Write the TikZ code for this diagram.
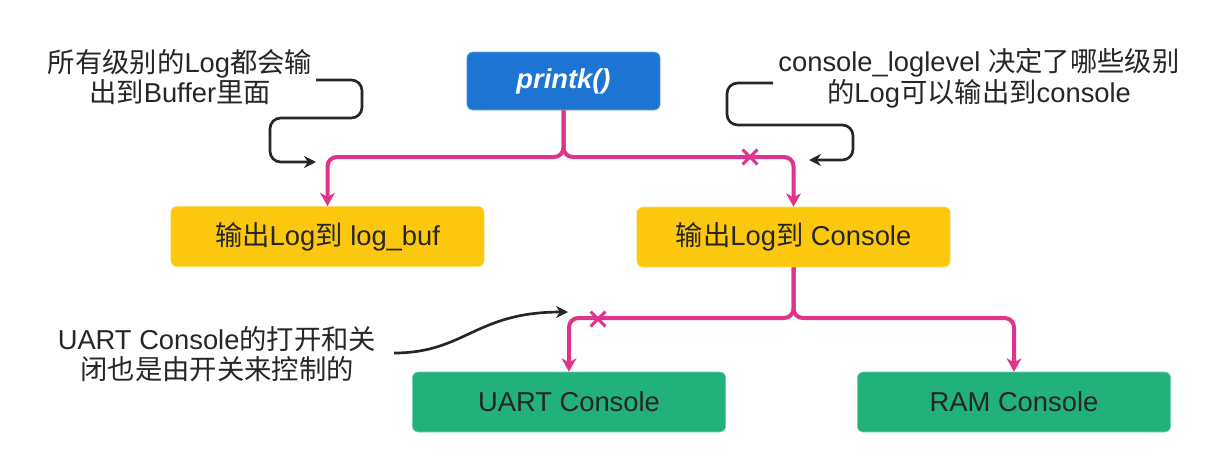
\documentclass[tikz,border=0pt]{standalone}
\usepackage{fontspec}
\setmainfont{Liberation Sans}
\newfontfamily\cjk{Noto Sans CJK SC}
\newcommand{\zh}[1]{{\cjk #1}}
\usetikzlibrary{arrows.meta,shapes.misc}
\definecolor{pblue}{HTML}{1E74D2}
\definecolor{pyel}{HTML}{FCC80E}
\definecolor{pgreen}{HTML}{22B07B}
\definecolor{ppink}{HTML}{E0338B}
\definecolor{ptext}{HTML}{262626}
\begin{document}
\begin{tikzpicture}[x=0.75pt,y=-0.75pt,
  box/.style={rounded corners=4.5pt, minimum width=235pt, minimum height=45pt, inner sep=0pt, font=\fontsize{20.5}{23}\selectfont, text=ptext},
  yelbox/.style={box, fill=pyel, draw=pyel!60},
  grnbox/.style={box, fill=pgreen, draw=pgreen!60},
  flow/.style={draw=ppink, line width=3pt, rounded corners=7pt, -{Stealth[length=10pt,width=11pt,inset=3pt]}},
  note/.style={draw=black!85, line width=2pt, rounded corners=8pt, -{Stealth[length=9pt,width=9pt,inset=3pt]}},
  notetext/.style={align=center, text=ptext, font=\fontsize{20.5}{23}\selectfont, inner sep=0pt},
  xmark/.style={cross out, draw=ppink, line width=2.2pt, minimum size=9pt, inner sep=0pt}
]
\useasboundingbox (0,0) rectangle (1230,457);
\fill[white] (0,0) rectangle (1230,457);

% boxes
\node[rounded corners=4.5pt, fill=pblue, draw=pblue!60, minimum width=145pt, minimum height=43.5pt, inner sep=0pt, text=white, font=\fontsize{20.5}{23}\selectfont\bfseries\itshape] (printk) at (563.5,81) {printk()};
\node[yelbox] (logbuf) at (327.5,236.5) {\zh{输出}Log\zh{到} log\_buf};
\node[yelbox] (console) at (793.5,237) {\zh{输出}Log\zh{到} Console};
\node[grnbox] (uart) at (569,402) {UART Console};
\node[grnbox] (ram) at (1014,402) {RAM Console};

% pink flow
\coordinate (j1) at (563.5,157);
\coordinate (j2) at (793.5,318);
\draw[flow] (printk.south) -- (j1) -| (logbuf.north);
\draw[flow] (printk.south) -- (j1) -| (console.north);
\draw[flow] (console.south) -- (j2) -| (uart.north);
\draw[flow] (console.south) -- (j2) -| (ram.north);
\node[xmark] (x1) at (750,157) {};
\node[xmark] (x2) at (598,319) {};

% annotations
\node[notetext] (n1) at (180,77) {\zh{所有级别的}Log\zh{都会输}\\\zh{出到}Buffer\zh{里面}};
\node[notetext] (n2) at (979,78) {console\_loglevel \zh{决定了哪些级别}\\\zh{的}Log\zh{可以输出到}console};
\node[notetext] (n3) at (217,354) {UART Console\zh{的打开和关}\\\zh{闭也是由开关来控制的}};

\coordinate (a1s) at (316,80);
\coordinate (a1e) at (316,162);
\coordinate (a2s) at (773,83);
\coordinate (a2e) at (809,160);
\coordinate (a3s) at (394,353);
\coordinate (a3e) at (568,312);
\draw[note] (a1s) -- (362,80) -- (362,118) -- (270,118) -- (270,162) -- (a1e);
\draw[note] (a2s) -- (727,83) -- (727,125) -- (853,125) -- (853,160) -- (a2e);
\draw[note, rounded corners=0pt] (a3s) .. controls (465,353) and (475,312) .. (a3e);
\end{tikzpicture}
\end{document}
